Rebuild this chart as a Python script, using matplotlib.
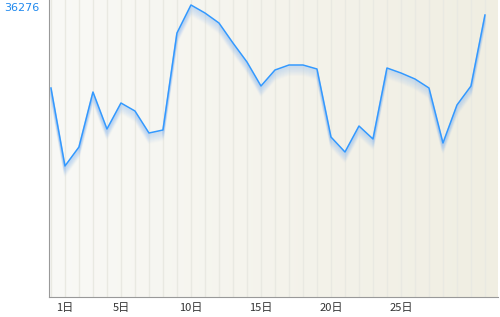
import numpy as np
import matplotlib.pyplot as plt

plt.rcParams['font.family'] = ['Noto Sans CJK JP', 'DejaVu Sans']

days = np.arange(0, 32)
values = [25965, 16275, 18635, 25468, 20871, 24101, 23107, 20374, 20747, 32798,
          36276, 35282, 34039, 31555, 29195, 26213, 28200, 28822, 28822, 28325,
          19877, 18014, 21244, 19629, 28449, 27828, 27083, 25965, 19132, 23853,
          26213, 35033]
tick_days = [1, 5, 10, 15, 20, 25]
tick_labels = ['1日', '5日', '10日', '15日', '20日', '25日']
max_label = '36276'

fig = plt.figure(figsize=(5, 3.17), dpi=100)
ax = fig.add_axes([0.098, 0.063, 0.898, 0.937])

y_top = 36897
x_left, x_right = -0.14, 31.93

# background gradient
grad = np.linspace(0, 1, 256)
c0 = np.array([249, 249, 246]) / 255
c1 = np.array([240, 238, 226]) / 255
img = c0[None, :] * (1 - grad[:, None]) + c1[None, :] * grad[:, None]
ax.imshow(img[None, :, :], extent=[x_left, x_right, 0, y_top], aspect='auto', zorder=0)

for d in days:
    ax.axvline(d, color='#e9e9e2', lw=1, zorder=1)

# soft shadow under the line
px = y_top / 297
vals = np.array(values, dtype=float)
for i in range(1, 11):
    ax.plot(days, vals - i * px, color='#9ec4f0', lw=1.5, alpha=0.3 * (1 - i / 11), zorder=2)

ax.plot(days, values, color='#3399ff', lw=1.1, zorder=3)

ax.set_xlim(x_left, x_right)
ax.set_ylim(0, y_top)
ax.set_xticks(tick_days)
ax.set_xticklabels(tick_labels, fontsize=8, color='#333333')
ax.tick_params(axis='x', length=0, pad=4)
ax.set_yticks([])
for s in ['top', 'right']:
    ax.spines[s].set_visible(False)
ax.spines['left'].set_color('#999999')
ax.spines['bottom'].set_color('#999999')

fig.text(0.008, 0.975, max_label, fontsize=8, color='#1e88ee', va='center', ha='left',
         family='DejaVu Sans')

fig.savefig('out.png', dpi=100)
